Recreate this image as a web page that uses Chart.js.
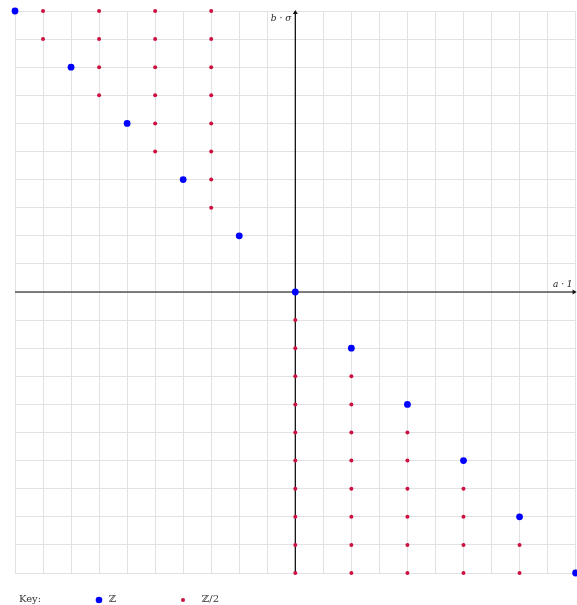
<!DOCTYPE html>
<html>
<head>
<meta charset="utf-8">
<script src="https://cdn.jsdelivr.net/npm/chart.js@4.4.0/dist/chart.umd.min.js"></script>
<style>
  html, body { margin: 0; padding: 0; background: #fff; overflow: hidden; }
  #wrap { position: relative; width: 577px; height: 605px; overflow: hidden; }
  canvas { display: block; }
  .lbl { position: absolute; font-family: "DejaVu Serif", "Liberation Serif", serif; font-size: 10px; color: #333; white-space: nowrap; }
</style>
</head>
<body>
<div id="wrap">
  <canvas id="chart" width="579" height="605"></canvas>
  <div class="lbl" style="left:19px; top:593px;">Key:</div>
  <div class="lbl" style="left:109px; top:593px;">ℤ</div>
  <div class="lbl" style="left:202px; top:593px;">ℤ/2</div>
</div>
<script>
const xMin = -10, xMax = 10, yMin = -10, yMax = 10;

// Z classes (blue)
const zX = [-10, -8, -6, -4, -2, 0, 2, 4, 6, 8, 10];
const zY = [10, 8, 6, 4, 2, 0, -2, -4, -6, -8, -10];

// Z/2 classes (red)
const halfPairs = [
  [-9, 10], [-9, 9],
  [-7, 10], [-7, 9], [-7, 8], [-7, 7],
  [-5, 10], [-5, 9], [-5, 8], [-5, 7], [-5, 6], [-5, 5],
  [-3, 10], [-3, 9], [-3, 8], [-3, 7], [-3, 6], [-3, 5], [-3, 4], [-3, 3],
  [0, -1], [0, -2], [0, -3], [0, -4], [0, -5], [0, -6], [0, -7], [0, -8], [0, -9], [0, -10],
  [2, -3], [2, -4], [2, -5], [2, -6], [2, -7], [2, -8], [2, -9], [2, -10],
  [4, -5], [4, -6], [4, -7], [4, -8], [4, -9], [4, -10],
  [6, -7], [6, -8], [6, -9], [6, -10],
  [8, -9], [8, -10]
];

const axisLabels = { x: "a · 1", y: "b · σ" };
const keyLabels = ["ℤ", "ℤ/2"];

const axesPlugin = {
  id: "axes",
  beforeDatasetsDraw(chart) {
    const { ctx, scales } = chart;
    const x0 = scales.x.getPixelForValue(0);
    const y0 = scales.y.getPixelForValue(0);
    const left = scales.x.getPixelForValue(xMin);
    const right = scales.x.getPixelForValue(xMax);
    const top = scales.y.getPixelForValue(yMax);
    const bottom = scales.y.getPixelForValue(yMin);
    ctx.save();
    // x axis
    ctx.strokeStyle = "#555";
    ctx.lineWidth = 1.5;
    ctx.beginPath();
    ctx.moveTo(left, y0);
    ctx.lineTo(right - 2, y0);
    ctx.stroke();
    ctx.fillStyle = "#111";
    ctx.beginPath();
    ctx.moveTo(right + 1, y0);
    ctx.lineTo(right - 3, y0 - 2.5);
    ctx.lineTo(right - 3, y0 + 2.5);
    ctx.closePath();
    ctx.fill();
    // y axis
    ctx.strokeStyle = "#000";
    ctx.lineWidth = 1.2;
    ctx.beginPath();
    ctx.moveTo(x0, bottom);
    ctx.lineTo(x0, top + 2);
    ctx.stroke();
    ctx.beginPath();
    ctx.moveTo(x0, top - 1);
    ctx.lineTo(x0 - 2.5, top + 3);
    ctx.lineTo(x0 + 2.5, top + 3);
    ctx.closePath();
    ctx.fill();
    // axis labels
    ctx.font = "italic 9px 'DejaVu Serif', 'Liberation Serif', serif";
    ctx.fillStyle = "#222";
    ctx.textAlign = "right";
    ctx.textBaseline = "middle";
    ctx.fillText(axisLabels.y, x0 - 4, top + 8);
    ctx.textBaseline = "bottom";
    ctx.fillText(axisLabels.x, right - 3, y0 - 3);
    ctx.restore();
  },
  afterDraw(chart) {
    const { ctx } = chart;
    ctx.save();
    ctx.fillStyle = "#0000ff";
    ctx.beginPath();
    ctx.arc(99, 600, 3.3, 0, Math.PI * 2);
    ctx.fill();
    ctx.fillStyle = "#cc1040";
    ctx.beginPath();
    ctx.arc(183, 600, 2, 0, Math.PI * 2);
    ctx.fill();
    ctx.restore();
  }
};

new Chart(document.getElementById("chart").getContext("2d"), {
  type: "scatter",
  data: {
    datasets: [
      {
        label: keyLabels[0],
        data: zX.map((x, i) => ({ x, y: zY[i] })),
        backgroundColor: "#0000ff",
        borderWidth: 0,
        pointRadius: 3.4,
        pointHoverRadius: 3.4,
      },
      {
        label: keyLabels[1],
        data: halfPairs.map(([x, y]) => ({ x, y })),
        backgroundColor: "#cc1040",
        borderWidth: 0,
        pointRadius: 2,
        pointHoverRadius: 2,
      },
    ],
  },
  options: {
    responsive: false,
    animation: false,
    devicePixelRatio: 1,
    clip: false,
    layout: { padding: { left: 15, top: 11, right: 0, bottom: 32 } },
    scales: {
      x: {
        type: "linear",
        min: xMin,
        max: xMax,
        ticks: { display: false, stepSize: 1 },
        grid: { color: "#e2e2e2", lineWidth: 1, drawTicks: false },
        border: { display: false },
      },
      y: {
        type: "linear",
        min: yMin,
        max: yMax,
        ticks: { display: false, stepSize: 1 },
        grid: { color: "#e2e2e2", lineWidth: 1, drawTicks: false },
        border: { display: false },
      },
    },
    plugins: {
      legend: { display: false },
      tooltip: { enabled: false },
    },
  },
  plugins: [axesPlugin],
});
</script>
</body>
</html>
